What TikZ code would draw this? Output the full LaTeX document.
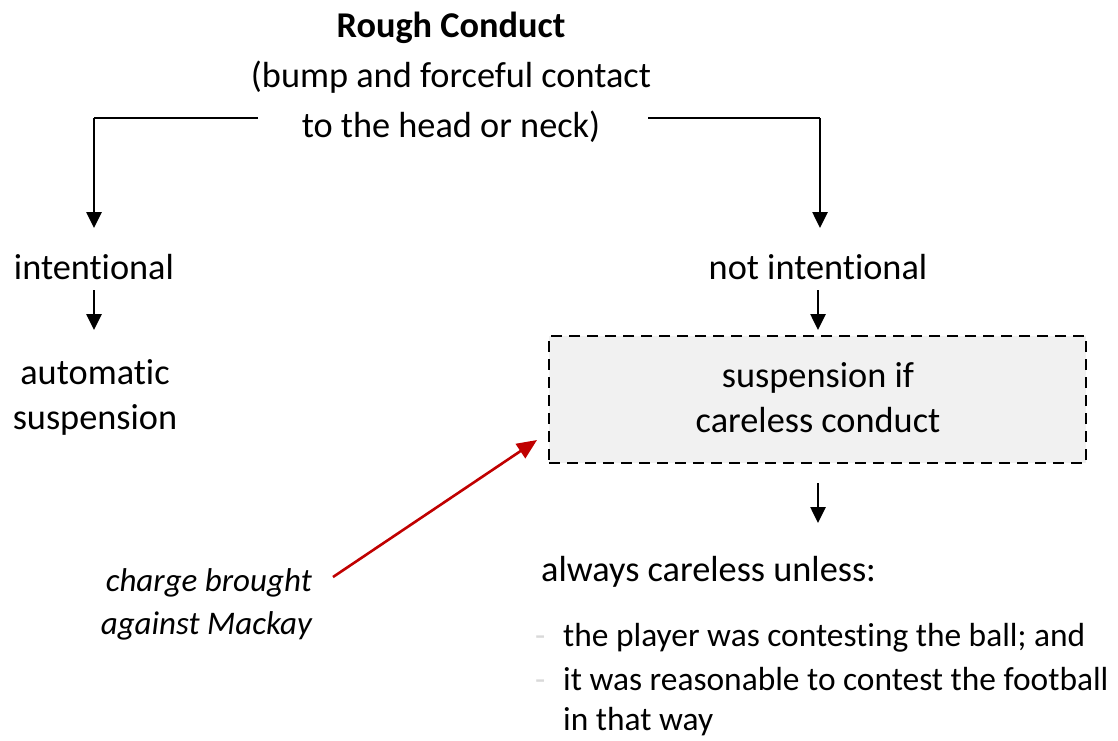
\documentclass[tikz,border=0pt]{standalone}
\usepackage{fontspec}
\setmainfont{Carlito}[Ligatures={NoCommon}]
\usetikzlibrary{arrows.meta}
\definecolor{boxfill}{HTML}{F1F1F1}
\definecolor{redarrow}{HTML}{C00000}
\definecolor{bulletgray}{HTML}{D9D9D9}
\tikzset{
  txt/.style={inner sep=0pt, font=\fontsize{36.3}{45}\selectfont, align=center},
  bul/.style={inner sep=0pt, font=\fontsize{33.4}{45}\selectfont},
  conn/.style={line width=2.6pt, -{Triangle[width=15pt,length=16pt]}},
  plainline/.style={line width=2.6pt},
  dashbox/.style={draw, line width=2.8pt, dash pattern=on 11pt off 7pt, fill=boxfill},
  redconn/.style={draw=redarrow, line width=2.6pt, -{Triangle[width=17pt,length=20pt]}, color=redarrow},
}
\begin{document}
\begin{tikzpicture}[x=1pt,y=-1pt]
\useasboundingbox (0,0) rectangle (1118,740);
% title
\node[txt, anchor=base, font=\fontsize{36.3}{50}\selectfont] (title) at (451,137) {\textbf{Rough Conduct}\\(bump and forceful contact\\to the head or neck)};
\coordinate (tl) at (258,118);
\coordinate (tr) at (648,118);
\coordinate (lc) at (94,118);
\coordinate (rc) at (820,118);
\coordinate (lend) at (94,228);
\coordinate (rend) at (820,228);
% left branch
\node[txt, anchor=base] (int) at (94,279) {intentional};
\node[txt, anchor=base] (auto) at (95,429) {automatic\\suspension};
\coordinate (a1s) at (94,290);
\coordinate (a1e) at (94,330);
% right branch
\node[txt, anchor=base] (notint) at (818,279) {not intentional};
\coordinate (a2s) at (818,290);
\coordinate (a2e) at (818,330);
\node[dashbox, minimum width=537pt, minimum height=127pt] (box) at (817.5,399.5) {};
\node[txt, anchor=base] (susp) at (818,432) {suspension if\\careless conduct};
\coordinate (a3s) at (818,483);
\coordinate (a3e) at (818,523);
\node[txt, anchor=base west] (always) at (541,581) {always careless unless:};
\node[bul, anchor=base west, text=bulletgray] (b1) at (535,646) {-};
\node[bul, anchor=base west, text=bulletgray] (b2) at (535,690) {-};
\node[bul, anchor=base west] (l1) at (563,646) {the player was contesting the ball; and};
\node[bul, anchor=base west] (l2) at (563,690) {it was reasonable to contest the football};
\node[bul, anchor=base west] (l3) at (563,730) {in that way};
% charge
\node[txt, anchor=base east, align=right, font=\fontsize{33}{43}\selectfont\itshape] (charge) at (312,634) {charge brought\\against Mackay};
\coordinate (rs) at (333,577);
\coordinate (re) at (537,440);
% connectors
\draw[plainline] (tl) -- (lc);
\draw[conn] (lc) -- (lend);
\draw[plainline] (tr) -- (rc);
\draw[conn] (rc) -- (rend);
\draw[conn] (a1s) -- (a1e);
\draw[conn] (a2s) -- (a2e);
\draw[conn] (a3s) -- (a3e);
\draw[redconn] (rs) -- (re);
\end{tikzpicture}
\end{document}
